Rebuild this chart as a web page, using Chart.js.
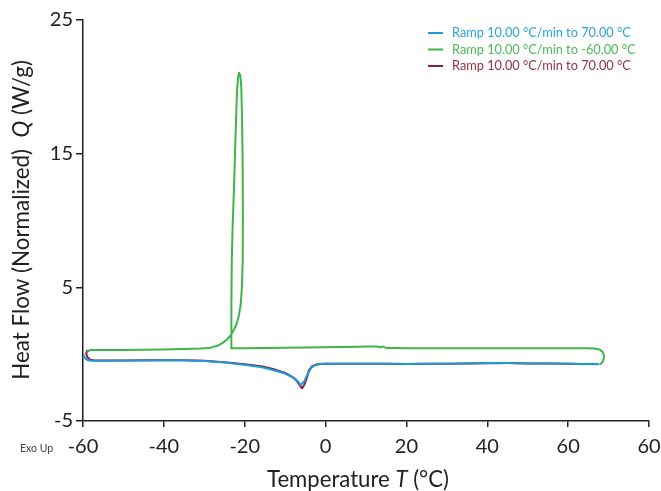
<!DOCTYPE html>
<html>
<head>
<meta charset="utf-8">
<script src="https://cdn.jsdelivr.net/npm/chart.js@4.4.1/dist/chart.umd.min.js"></script>
<style>
html,body{margin:0;padding:0;background:#fff;}
#wrap{width:661px;height:491px;position:relative;}
</style>
</head>
<body>
<div id="wrap"><canvas id="c" width="661" height="491"></canvas></div>
<script>
// ---- data ----
const seriesNames = [
  "Ramp 10.00 \u00B0C/min to 70.00 \u00B0C",
  "Ramp 10.00 \u00B0C/min to -60.00 \u00B0C",
  "Ramp 10.00 \u00B0C/min to 70.00 \u00B0C"
];
// heating run 1 (blue)
const heat1X = [-59.8, -59.5, -59.0, -58.3, -57, -50, -40, -35, -30, -25, -20, -16, -13, -10, -8, -7, -6.2, -5.3, -4.4, -3.5, -2.5, -1.2, 1, 5, 10, 20, 30, 40, 45, 50, 60, 67.5];
const heat1Y = [-0.10, -0.30, -0.42, -0.48, -0.50, -0.48, -0.45, -0.46, -0.52, -0.63, -0.80, -0.97, -1.18, -1.45, -1.75, -1.98, -2.30, -2.05, -1.45, -1.00, -0.80, -0.73, -0.72, -0.71, -0.72, -0.73, -0.71, -0.67, -0.66, -0.69, -0.72, -0.76];
// cooling run (green), in time order from 70 down to -60
const coolX = [68.0, 68.6, 68.9, 68.6, 67.8, 66.5, 65, 50, 40, 30, 20, 15, 14, 13.6, 13.2, 12, 8, 0, -10, -20, -23.3, -23.3, -23.2, -23.0, -22.7, -22.4, -22.1, -21.9, -21.65, -21.4, -21.1, -20.85, -20.65, -20.5, -20.45, -20.5, -20.7, -21.0, -21.5, -22.1, -22.8, -23.5, -24.4, -25.4, -26.6, -28.5, -31, -35, -40, -50, -55, -58.3, -58.9];
const coolY = [-0.74, -0.55, -0.20, 0.15, 0.34, 0.42, 0.44, 0.44, 0.44, 0.44, 0.45, 0.47, 0.58, 0.50, 0.56, 0.57, 0.56, 0.52, 0.48, 0.44, 0.44, 4.0, 7.0, 9.5, 12.0, 15.0, 18.0, 19.7, 20.7, 21.05, 20.85, 20.0, 17.5, 14.0, 10.0, 7.0, 5.0, 3.7, 2.8, 2.2, 1.75, 1.4, 1.1, 0.85, 0.65, 0.48, 0.42, 0.38, 0.34, 0.31, 0.31, 0.31, 0.18];
// heating run 2 (red)
const heat2X = [-59.0, -59.2, -58.9, -58.2, -57, -50, -40, -35, -30, -25, -20, -16, -13, -10, -8, -7, -6.3, -5.8, -5.2, -4.6, -4.1, -3.4, -2.5, -1.2, 1, 5, 10, 20, 30, 40, 45, 50, 60, 66.8];
const heat2Y = [0.26, 0.02, -0.24, -0.42, -0.48, -0.47, -0.45, -0.45, -0.50, -0.60, -0.75, -0.90, -1.10, -1.40, -1.75, -2.05, -2.35, -2.55, -2.25, -1.75, -1.20, -0.92, -0.79, -0.73, -0.72, -0.71, -0.72, -0.73, -0.72, -0.68, -0.67, -0.69, -0.72, -0.74];

const xTickValues = [-60, -40, -20, 0, 20, 40, 60, 80];
const xTickLabels = ["-60", "-40", "-20", "0", "20", "40", "60", "60"];
const yTickValues = [-5, 5, 15, 25];
const yTickLabels = ["-5", "5", "15", "25"];

// ---- styling ----
const FAMILY = "Lato, 'DejaVu Sans', sans-serif";
const AXIS = '#222222';
const colors = ['#1E9AD8', '#3DB54A', '#8C2035'];
const textColors = ['#2BA3DD', '#4CB95A', '#963040'];

function pts(xs, ys){ return xs.map((x,i)=>({x:x, y:ys[i]})); }

function fitSize(ctx, parts, target){
  let w = 0;
  parts.forEach(p => { ctx.font = (p.italic ? 'italic ' : '') + '100px ' + FAMILY; w += ctx.measureText(p.t).width; });
  return 100 * target / w;
}
function drawParts(ctx, parts, size, x, y){
  let w = 0;
  parts.forEach(p => { ctx.font = (p.italic ? 'italic ' : '') + size + 'px ' + FAMILY; p.w = ctx.measureText(p.t).width; w += p.w; });
  let cx = x - w/2;
  parts.forEach(p => { ctx.font = (p.italic ? 'italic ' : '') + size + 'px ' + FAMILY; ctx.fillText(p.t, cx, y); cx += p.w; });
}

const decor = {
  id: 'decor',
  afterDraw(chart){
    const ctx = chart.ctx;
    ctx.save();
    ctx.textBaseline = 'middle';
    ctx.textAlign = 'left';
    // legend
    const lsize = fitSize(ctx, [{t: seriesNames[0]}], 179);
    chart.data.datasets.forEach((ds, i) => {
      const y = 33 + i * 16.5;
      ctx.strokeStyle = ds.borderColor;
      ctx.lineWidth = 2;
      ctx.beginPath(); ctx.moveTo(428, y); ctx.lineTo(443, y); ctx.stroke();
      ctx.fillStyle = textColors[i];
      ctx.font = lsize + 'px ' + FAMILY;
      ctx.fillText(ds.label, 452, y);
    });
    // x title
    ctx.fillStyle = '#222';
    const xParts = [{t:'Temperature '}, {t:'T', italic:true}, {t:' (\u00B0C)'}];
    const xs = fitSize(ctx, xParts, 182);
    drawParts(ctx, xParts, xs, 358, 480);
    // y title
    const yParts = [{t:'Heat Flow (Normalized)  '}, {t:'Q', italic:true}, {t:' (W/g)'}];
    const ys = fitSize(ctx, yParts, 320);
    ctx.save();
    ctx.translate(22, 220);
    ctx.rotate(-Math.PI/2);
    drawParts(ctx, yParts, ys, 0, 0);
    ctx.restore();
    // Exo Up
    ctx.fillStyle = '#444';
    ctx.font = '10.5px ' + FAMILY;
    ctx.fillText('Exo Up', 20, 449);
    ctx.restore();
  }
};

new Chart(document.getElementById('c'), {
  type: 'scatter',
  data: {
    datasets: [
      {label: seriesNames[0], data: pts(heat1X, heat1Y), borderColor: colors[0], backgroundColor: colors[0]},
      {label: seriesNames[1], data: pts(coolX, coolY), borderColor: colors[1], backgroundColor: colors[1]},
      {label: seriesNames[2], data: pts(heat2X, heat2Y), borderColor: colors[2], backgroundColor: colors[2]}
    ].map(d => Object.assign(d, {showLine: true, pointRadius: 0, borderWidth: 2, tension: 0.0001, borderJoinStyle: 'round', borderCapStyle: 'round', fill: false}))
  },
  options: {
    responsive: false,
    animation: false,
    layout: {padding: {top: 20, right: 12, left: 0, bottom: 0}},
    plugins: {legend: {display: false}, tooltip: {enabled: false}},
    scales: {
      x: {
        type: 'linear', min: -60, max: 80,
        afterFit(s){ s.height = 70; s.paddingLeft = 0; s.paddingRight = 0; },
        afterBuildTicks(s){ s.ticks = xTickValues.map(v => ({value: v})); },
        ticks: {callback: (v, i) => xTickLabels[i], color: '#222', font: {family: FAMILY, size: 20}, padding: 8, maxRotation: 0, autoSkip: false},
        grid: {drawOnChartArea: false, drawTicks: true, tickLength: 6, color: AXIS, lineWidth: 1.5},
        border: {display: true, color: AXIS, width: 1.5}
      },
      y: {
        type: 'linear', min: -5, max: 25,
        afterFit(s){ s.width = 83; s.paddingTop = 0; s.paddingBottom = 0; },
        afterBuildTicks(s){ s.ticks = yTickValues.map(v => ({value: v})); },
        ticks: {callback: (v, i) => yTickLabels[i], color: '#222', font: {family: FAMILY, size: 20}, padding: 3, autoSkip: false},
        grid: {drawOnChartArea: false, drawTicks: true, tickLength: 7, color: AXIS, lineWidth: 1.5},
        border: {display: true, color: AXIS, width: 1.5}
      }
    }
  },
  plugins: [decor]
});
</script>
</body>
</html>
